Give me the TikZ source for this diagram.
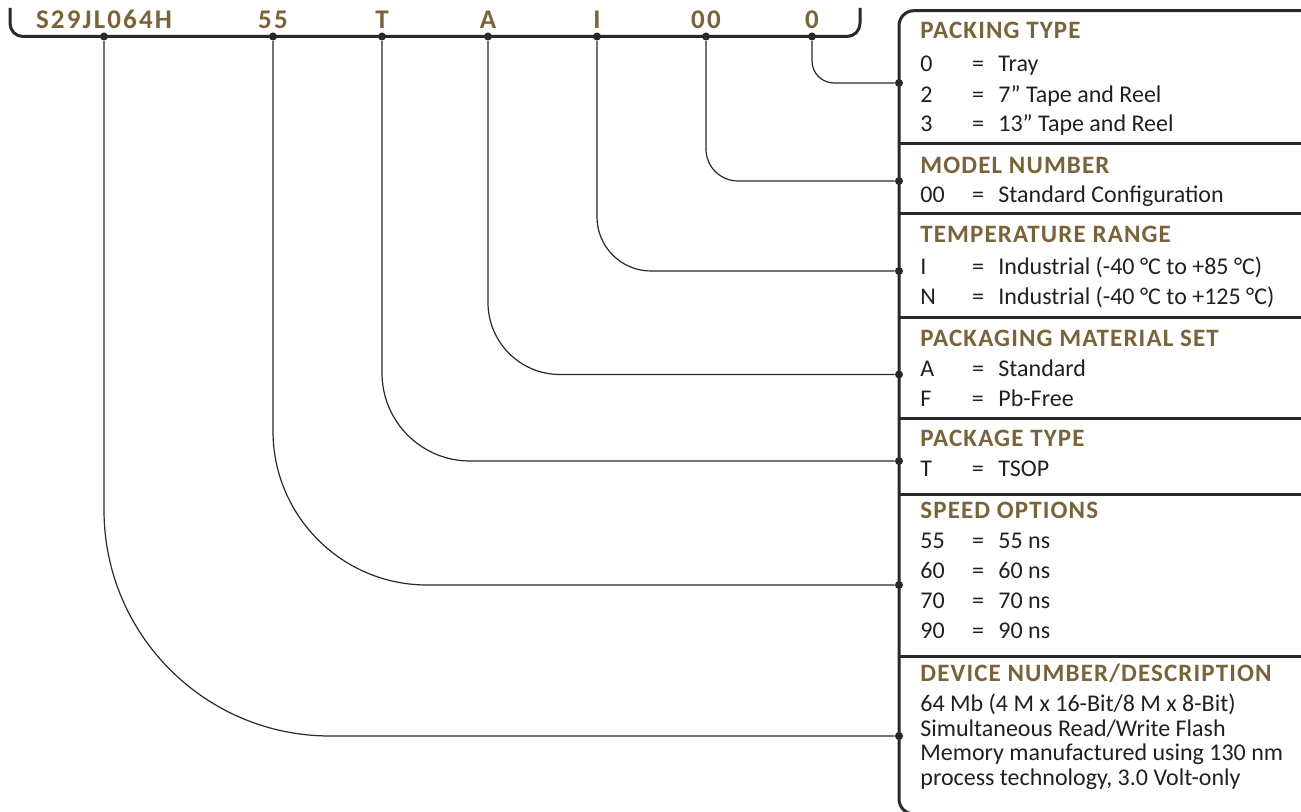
\documentclass[tikz,border=0pt]{standalone}
\usepackage{fontspec}
\setmainfont{Carlito}
\definecolor{hdbrown}{RGB}{122,98,57}
\definecolor{ink}{RGB}{35,31,32}
\definecolor{rule}{RGB}{38,42,40}
\newcommand\pnrow[2]{\makebox[25.8pt][l]{#1}\makebox[13.2pt][l]{=}#2}

\begin{document}
\begin{tikzpicture}
  [x=0.5pt,y=-0.5pt,every node/.style={inner sep=0pt,anchor=base west,text=ink,font=\fontsize{12}{14}\selectfont},
   hd/.style={text=hdbrown,font=\fontsize{12.5}{14}\selectfont\bfseries\addfontfeature{LetterSpace=4.5}},
   pn/.style={anchor=base,text=hdbrown,font=\fontsize{13.5}{15}\selectfont\bfseries\addfontfeature{LetterSpace=8}},
   dot/.style={anchor=center,circle,fill=rule,minimum size=4pt},
   boxline/.style={draw=rule,line width=1.5pt},
   conn/.style={draw=rule,line width=0.6pt},
   elbow/.style={to path={|- (\tikztotarget)}}]
  \useasboundingbox (0,0) rectangle (1301,812);

  % part number bracket
  \draw[boxline,rounded corners=6.5pt] (10,8) -- (10,36.5) -- (860,36.5) -- (860,8);
  \node[pn] (pn1) at (104,28.3) {S29JL064H};
  \node[pn] (pn2) at (273,28.3) {55};
  \node[pn] (pn3) at (382,28.3) {T};
  \node[pn] (pn4) at (488,28.3) {A};
  \node[pn] (pn5) at (597,28.3) {I};
  \node[pn] (pn6) at (706,28.3) {00};
  \node[pn] (pn7) at (812,28.3) {0};

  % option box
  \draw[boxline,rounded corners=7.5pt] (1330,10.7) -- (899,10.7) -- (899,814) -- (1330,814);
  \draw[boxline] (899,144) -- (1330,144) (899,214) -- (1330,214) (899,317.3) -- (1330,317.3)
    (899,418.5) -- (1330,418.5) (899,494) -- (1330,494) (899,656.7) -- (1330,656.7);

  \node[hd] (h7) at (920,38.3) {PACKING TYPE};
  \node (r71) at (920,71.7) {\pnrow{0}{Tray}};
  \node (r72) at (920,102.3) {\pnrow{2}{7” Tape and Reel}};
  \node (r73) at (920,132) {\pnrow{3}{13” Tape and Reel}};
  \node[hd] (h6) at (920,173.3) {MODEL NUMBER};
  \node (r61) at (920,203) {\pnrow{00}{Standard Configuration}};
  \node[hd] (h5) at (920,243) {TEMPERATURE RANGE};
  \node (r51) at (920,275) {\pnrow{I}{Industrial (-40 °C to +85 °C)}};
  \node (r52) at (920,305) {\pnrow{N}{Industrial (-40 °C to +125 °C)}};
  \node[hd] (h4) at (920,346.5) {PACKAGING MATERIAL SET};
  \node (r41) at (920,376.7) {\pnrow{A}{Standard}};
  \node (r42) at (920,406.7) {\pnrow{F}{Pb-Free}};
  \node[hd] (h3) at (920,446.7) {PACKAGE TYPE};
  \node (r31) at (920,476.7) {\pnrow{T}{TSOP}};
  \node[hd] (h2) at (920,518) {SPEED OPTIONS};
  \node (r21) at (920,548) {\pnrow{55}{55 ns}};
  \node (r22) at (920,578) {\pnrow{60}{60 ns}};
  \node (r23) at (920,608) {\pnrow{70}{70 ns}};
  \node (r24) at (920,638) {\pnrow{90}{90 ns}};
  \node[hd] (h1) at (920,681.7) {DEVICE NUMBER/DESCRIPTION};
  \node (r11) at (920,711.7) {64 Mb (4 M x 16-Bit/8 M x 8-Bit)};
  \node (r12) at (920,736.7) {Simultaneous Read/Write Flash};
  \node (r13) at (920,760) {Memory manufactured using 130 nm};
  \node (r14) at (920,785) {process technology, 3.0 Volt-only};

  % dots
  \node[dot] (d1) at (104,36.5) {};
  \node[dot] (d2) at (273,36.5) {};
  \node[dot] (d3) at (382,36.5) {};
  \node[dot] (d4) at (488,36.5) {};
  \node[dot] (d5) at (597,36.5) {};
  \node[dot] (d6) at (706,36.5) {};
  \node[dot] (d7) at (812,36.5) {};
  \node[dot] (b1) at (899,736) {};
  \node[dot] (b2) at (899,585) {};
  \node[dot] (b3) at (899,461) {};
  \node[dot] (b4) at (899,374.5) {};
  \node[dot] (b5) at (899,271) {};
  \node[dot] (b6) at (899,181) {};
  \node[dot] (b7) at (899,83) {};

\path[conn,elbow]
    (d7) edge [rounded corners=11pt] (b7)
    (d6) edge [rounded corners=16pt] (b6)
    (d5) edge [rounded corners=27pt] (b5)
    (d4) edge [rounded corners=36pt] (b4)
    (d3) edge [rounded corners=44pt] (b3)
    (d2) edge [rounded corners=77pt] (b2)
    (d1) edge [rounded corners=113pt] (b1)
;
\end{tikzpicture}
\end{document}
